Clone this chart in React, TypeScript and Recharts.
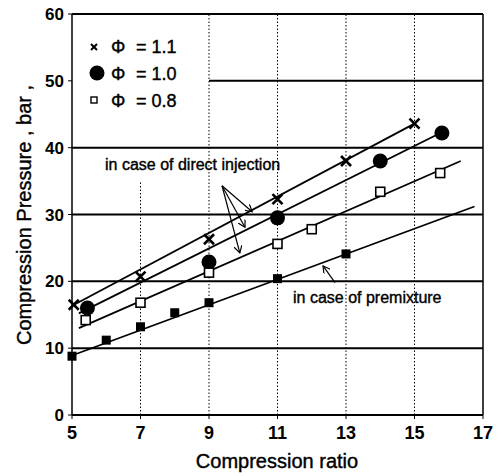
import {ComposedChart, Line, ReferenceLine, Scatter, XAxis, YAxis} from 'recharts'

const ratioTicks = [5, 7, 9, 11, 13, 15, 17]
const pressureTicks = [0, 10, 20, 30, 40, 50, 60]

// measured points, compression ratio vs compression pressure (bar)
const phi11 = [
    {x: 5.05, y: 16.5},
    {x: 7, y: 20.7},
    {x: 9, y: 26.3},
    {x: 11, y: 32.3},
    {x: 13, y: 38.0},
    {x: 15, y: 43.6},
]
const phi10 = [
    {x: 5.45, y: 16.0},
    {x: 9, y: 22.9},
    {x: 11, y: 29.5},
    {x: 14, y: 38.0},
    {x: 15.8, y: 42.2},
]
const phi08 = [
    {x: 5.4, y: 14.2},
    {x: 7, y: 16.8},
    {x: 9, y: 21.3},
    {x: 11, y: 25.6},
    {x: 12, y: 27.8},
    {x: 14, y: 33.4},
    {x: 15.75, y: 36.2},
]
const premix = [
    {x: 5, y: 8.8},
    {x: 6, y: 11.2},
    {x: 7, y: 13.2},
    {x: 8, y: 15.3},
    {x: 9, y: 16.8},
    {x: 11, y: 20.4},
    {x: 13, y: 24.1},
]

// hand-drawn fit lines (end points)
const fit11 = [{x: 5.1, y: 16.6}, {x: 15, y: 43.6}]
const fit10 = [{x: 5.2, y: 15.2}, {x: 15.8, y: 42.3}]
const fit08 = [{x: 5.2, y: 13.0}, {x: 16.35, y: 38.0}]
const fitPremix = [{x: 5, y: 8.9}, {x: 16.75, y: 31.2}]

const solidGrid = [10, 20, 30, 40, 60]
const dottedGrid = [9, 11, 13, 15]

// annotation pointers: label anchor -> curve
const injectionFrom = {x: 9.38, y: 34.3}
const injectionTo = [{x: 10.26, y: 30.4}, {x: 10.05, y: 28.1}, {x: 9.9, y: 24.25}]
const premixFrom = {x: 12.68, y: 19.8}
const premixTo = {x: 12.33, y: 22.3}

const font = '"Liberation Sans", Arial, sans-serif'
const tickFont = '"Liberation Sans Narrow", "Liberation Sans", Arial, sans-serif'

const Cross = ({cx, cy}: any) => (
    <g stroke="#000" strokeWidth={2.6}>
        <line x1={cx - 5} y1={cy - 5} x2={cx + 5} y2={cy + 5}/>
        <line x1={cx - 5} y1={cy + 5} x2={cx + 5} y2={cy - 5}/>
    </g>
)
const Dot = ({cx, cy}: any) => <circle cx={cx} cy={cy} r={7.5} fill="#000"/>
const OpenSquare = ({cx, cy}: any) => (
    <rect x={cx - 4.5} y={cy - 4.5} width={9} height={9} fill="#fff" stroke="#000" strokeWidth={1.6}/>
)
const FilledSquare = ({cx, cy}: any) => <rect x={cx - 4.5} y={cy - 4.5} width={9} height={9} fill="#000"/>

const txt = {fontFamily: font, fill: '#000', stroke: '#000', strokeWidth: 0.4}

export default function App() {
    return (
        <div style={{position: 'relative', width: 502, height: 476, background: '#fff'}}>
            <style>{'body{margin:0}'}</style>
            <ComposedChart width={502} height={476} margin={{top: 14, right: 19, bottom: 0, left: 0}}>
                <XAxis
                    type="number"
                    dataKey="x"
                    domain={[5, 17]}
                    ticks={ratioTicks}
                    height={61}
                    tickSize={4}
                    tickMargin={7}
                    axisLine={{stroke: '#000', strokeWidth: 2.2}}
                    tickLine={{stroke: '#000'}}
                    tick={{fill: '#000', fontSize: 18, fontWeight: 'bold', fontFamily: tickFont}}
                />
                <YAxis
                    type="number"
                    dataKey="y"
                    domain={[0, 60]}
                    ticks={pressureTicks}
                    width={72}
                    tickSize={4}
                    tickMargin={4}
                    axisLine={{stroke: '#000', strokeWidth: 1.5}}
                    tickLine={{stroke: '#000'}}
                    tick={{fill: '#000', fontSize: 17, fontWeight: 'bold', fontFamily: tickFont}}
                />
                {solidGrid.map((v) => (
                    <ReferenceLine key={'h' + v} y={v} stroke="#000" strokeWidth={2}/>
                ))}
                <ReferenceLine segment={[{x: 9, y: 50}, {x: 17, y: 50}]} stroke="#000" strokeWidth={2}/>
                <ReferenceLine x={17} stroke="#000" strokeWidth={1.5}/>
                {dottedGrid.map((v) => (
                    <ReferenceLine key={'v' + v} x={v} stroke="#000" strokeWidth={1} strokeDasharray="1.5 2"/>
                ))}
                <ReferenceLine segment={[{x: 7, y: 0}, {x: 7, y: 35}]} stroke="#000" strokeWidth={1} strokeDasharray="1.5 2"/>

                {injectionTo.map((p, i) => (
                    <ReferenceLine key={'a' + i} segment={[injectionFrom, p]} stroke="#000" strokeWidth={1.2}
                                   markerEnd="url(#arrowHead)"/>
                ))}
                <ReferenceLine segment={[premixFrom, premixTo]} stroke="#000" strokeWidth={1.2}
                               markerEnd="url(#arrowHead)"/>

                <Line data={fit11} dataKey="y" stroke="#000" strokeWidth={1.8} dot={false} isAnimationActive={false}/>
                <Line data={fit10} dataKey="y" stroke="#000" strokeWidth={1.8} dot={false} isAnimationActive={false}/>
                <Line data={fit08} dataKey="y" stroke="#000" strokeWidth={1.8} dot={false} isAnimationActive={false}/>
                <Line data={fitPremix} dataKey="y" stroke="#000" strokeWidth={1.8} dot={false} isAnimationActive={false}/>

                <Scatter data={phi11} dataKey="y" shape={Cross} isAnimationActive={false}/>
                <Scatter data={phi10} dataKey="y" shape={Dot} isAnimationActive={false}/>
                <Scatter data={phi08} dataKey="y" shape={OpenSquare} isAnimationActive={false}/>
                <Scatter data={premix} dataKey="y" shape={FilledSquare} isAnimationActive={false}/>
            </ComposedChart>

            <svg width={502} height={476} style={{position: 'absolute', left: 0, top: 0, pointerEvents: 'none'}}>
                <defs>
                    <marker id="arrowHead" markerWidth="8" markerHeight="8" refX="7" refY="4" orient="auto"
                            markerUnits="userSpaceOnUse">
                        <path d="M0,0 L7,4 L0,8" fill="none" stroke="#000" strokeWidth={1.2}/>
                    </marker>
                </defs>

                <g {...txt} fontSize={18}>
                    <g stroke="#000" strokeWidth={2}>
                        <line x1={91} y1={44} x2={97} y2={50}/>
                        <line x1={91} y1={50} x2={97} y2={44}/>
                    </g>
                    <text x={111} y={53}>Φ</text>
                    <text x={136} y={53}>= 1.1</text>

                    <circle cx={97} cy={73} r={7.5} fill="#000" stroke="none"/>
                    <text x={111} y={80}>Φ</text>
                    <text x={136} y={80}>= 1.0</text>

                    <rect x={91} y={97} width={6} height={6} fill="#fff" stroke="#000" strokeWidth={1.4}/>
                    <text x={111} y={107}>Φ</text>
                    <text x={136} y={107}>= 0.8</text>
                </g>

                <text {...txt} x={105} y={170} fontSize={16}>in case of direct injection</text>
                <text {...txt} x={293} y={303} fontSize={16}>in case of premixture</text>

                <text {...txt} x={277} y={468} fontSize={20} textAnchor="middle">Compression ratio</text>
                <text {...txt} x={0} y={0} fontSize={20} textAnchor="middle"
                      transform="translate(31 215) rotate(-90)">Compression Pressure , bar ,</text>
            </svg>
        </div>
    )
}
